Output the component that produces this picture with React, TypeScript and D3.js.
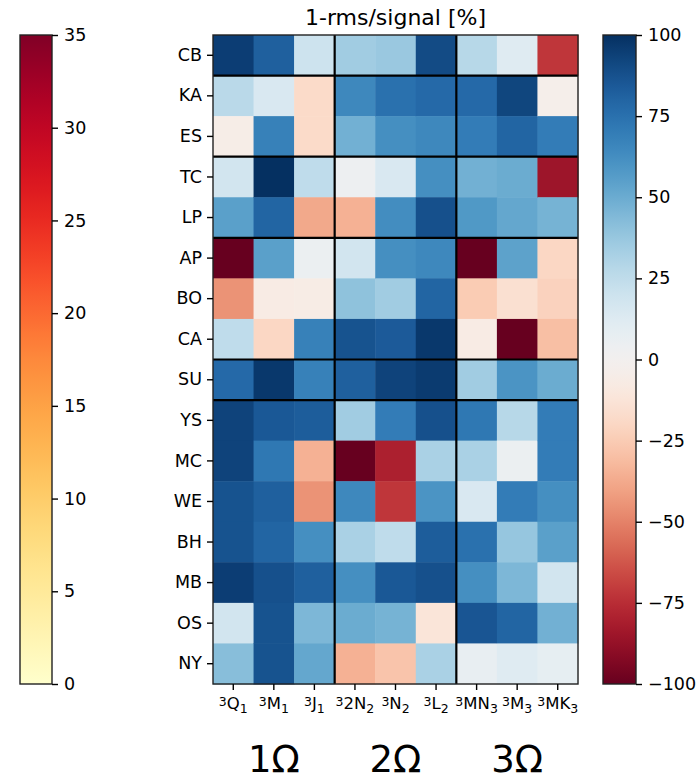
import React, { useEffect, useRef } from 'react'
import * as d3 from 'd3'

const stations = ['CB', 'KA', 'ES', 'TC', 'LP', 'AP', 'BO', 'CA', 'SU', 'YS', 'MC', 'WE', 'BH', 'MB', 'OS', 'NY']
const constituents = [
  { base: 'Q', sub: '1' }, { base: 'M', sub: '1' }, { base: 'J', sub: '1' },
  { base: '2N', sub: '2' }, { base: 'N', sub: '2' }, { base: 'L', sub: '2' },
  { base: 'MN', sub: '3' }, { base: 'M', sub: '3' }, { base: 'MK', sub: '3' },
]
const groupLabels = ['1Ω', '2Ω', '3Ω']

// one array per constituent, in station order
const q1 = [95, 27, -5, 18, 55, -100, -45, 25, 78, 93, 93, 87, 87, 95, 18, 42]
const m1 = [82, 15, 68, 100, 80, 55, -7, -20, 97, 85, 72, 82, 80, 88, 87, 87]
const j1 = [20, -18, -18, 25, -38, 5, -6, 68, 68, 83, -35, -45, 62, 82, 45, 52]
const n2_2 = [35, 65, 48, 4, -35, 18, 40, 87, 82, 35, -100, 65, 32, 62, 50, -35]
const n2 = [37, 75, 62, 15, 63, 62, 35, 84, 93, 70, -80, -72, 25, 85, 47, -28]
const l2 = [90, 78, 65, 62, 88, 65, 80, 97, 96, 88, 32, 60, 83, 88, -12, 32]
const mn3 = [28, 78, 70, 48, 58, -100, -25, -7, 35, 72, 32, 15, 75, 62, 86, 7]
const m3 = [12, 92, 80, 50, 52, 54, -15, -100, 60, 28, 5, 70, 38, 45, 80, 12]
const mk3 = [-72, -3, 70, -85, 47, -20, -22, -30, 50, 70, 70, 62, 55, 18, 48, 8]
const series = [q1, m1, j1, n2_2, n2, l2, mn3, m3, mk3]

// rows after which a thick separator is drawn
const rowBreaks = ['CB', 'ES', 'LP', 'CA', 'SU']
const colBreaks = [3, 6]

const leftTicks = [0, 5, 10, 15, 20, 25, 30, 35]
const rightTicks = [-100, -75, -50, -25, 0, 25, 50, 75, 100]

function App() {
  const svgRef = useRef<SVGSVGElement>(null)

  useEffect(() => {
    const svg = d3.select(svgRef.current)
    svg.selectAll('*').remove()
    const font = 'DejaVu Sans, sans-serif'
    const tickFont = 17.5

    const top = 35, bottom = 684
    const left = 213, right = 578

    const x = d3.scaleBand<number>().domain(d3.range(constituents.length)).range([left, right])
    const y = d3.scaleBand<string>().domain(stations).range([top, bottom])
    const color = d3.scaleSequential(d3.interpolateRdBu).domain([-100, 100])

    const defs = svg.append('defs')

    // heatmap cells
    const cells = series.flatMap((col, ci) => col.map((v, ri) => ({ ci, ri, v })))
    svg.append('g')
      .selectAll('rect')
      .data(cells)
      .join('rect')
      .attr('x', d => x(d.ci)!)
      .attr('y', d => y(stations[d.ri])!)
      .attr('width', x.bandwidth() + 0.5)
      .attr('height', y.bandwidth() + 0.5)
      .attr('fill', d => color(d.v))

    // separators
    svg.append('g')
      .selectAll('line.h')
      .data(rowBreaks)
      .join('line')
      .attr('x1', left).attr('x2', right)
      .attr('y1', d => y(d)! + y.bandwidth())
      .attr('y2', d => y(d)! + y.bandwidth())
      .attr('stroke', '#000').attr('stroke-width', 2.2)
    svg.append('g')
      .selectAll('line.v')
      .data(colBreaks)
      .join('line')
      .attr('y1', top).attr('y2', bottom)
      .attr('x1', d => x(d)!)
      .attr('x2', d => x(d)!)
      .attr('stroke', '#000').attr('stroke-width', 2.2)

    svg.append('rect')
      .attr('x', left).attr('y', top)
      .attr('width', right - left).attr('height', bottom - top)
      .attr('fill', 'none').attr('stroke', '#222').attr('stroke-width', 1.4)

    // y axis
    const yAxis = svg.append('g')
      .attr('transform', `translate(${left},0)`)
      .call(d3.axisLeft(y).tickSize(6).tickPadding(5))
    yAxis.select('.domain').remove()
    yAxis.selectAll('line').attr('stroke-width', 1.4)
    yAxis.selectAll('text').attr('font-size', tickFont).attr('font-family', font).attr('fill', '#000')

    // x axis
    const xAxis = svg.append('g')
      .attr('transform', `translate(0,${bottom})`)
      .call(d3.axisBottom(x).tickSize(6).tickFormat(() => ''))
    xAxis.select('.domain').remove()
    xAxis.selectAll('line').attr('stroke-width', 1.4)
    const xl = svg.append('g')
      .selectAll('text')
      .data(constituents)
      .join('text')
      .attr('x', (d, i) => x(i)! + x.bandwidth() / 2)
      .attr('y', 709)
      .attr('text-anchor', 'middle')
      .attr('font-family', font)
      .attr('font-size', 16.5)
    xl.append('tspan').attr('font-size', 12.5).attr('dy', -3.5).text('3')
    xl.append('tspan').attr('dy', 3.5).text(d => d.base)
    xl.append('tspan').attr('font-size', 12.5).attr('dy', 3.5).text(d => d.sub)

    svg.append('g')
      .selectAll('text')
      .data(groupLabels)
      .join('text')
      .attr('x', (d, i) => x(i * 3 + 1)! + x.bandwidth() / 2)
      .attr('y', 772)
      .attr('text-anchor', 'middle')
      .attr('font-family', font)
      .attr('font-size', 37)
      .text(d => d)

    svg.append('text')
      .attr('x', (left + right) / 2)
      .attr('y', 25)
      .attr('text-anchor', 'middle')
      .attr('font-family', font)
      .attr('font-size', 22)
      .text('1-rms/signal [%]')

    // colorbars
    const drawBar = (id: string, x0: number, w: number, interp: (t: number) => string, domain: [number, number], ticks: number[]) => {
      const grad = defs.append('linearGradient')
        .attr('id', id).attr('x1', 0).attr('y1', 1).attr('x2', 0).attr('y2', 0)
      grad.selectAll('stop')
        .data(d3.range(0, 1.0001, 0.02))
        .join('stop')
        .attr('offset', d => d)
        .attr('stop-color', d => interp(d))
      svg.append('rect')
        .attr('x', x0).attr('y', top)
        .attr('width', w).attr('height', bottom - top)
        .attr('fill', `url(#${id})`)
        .attr('stroke', '#222').attr('stroke-width', 1.4)
      const s = d3.scaleLinear().domain(domain).range([bottom, top])
      const ax = svg.append('g')
        .attr('transform', `translate(${x0 + w},0)`)
        .call(d3.axisRight(s).tickValues(ticks).tickSize(6).tickPadding(6).tickFormat(d3.format('d')))
      ax.select('.domain').remove()
      ax.selectAll('line').attr('stroke-width', 1.4)
      ax.selectAll('text').attr('font-size', tickFont).attr('font-family', font).attr('fill', '#000')
    }
    drawBar('ylorrd', 20, 32, d3.interpolateYlOrRd, [0, 35], leftTicks)
    drawBar('rdbu', 603, 33, d3.interpolateRdBu, [-100, 100], rightTicks)
  }, [])

  return (
    <div>
      <svg ref={svgRef} width={700} height={781} style={{ position: 'absolute', left: 0, top: 0, background: '#fff' }}></svg>
    </div>
  )
}

export default App
